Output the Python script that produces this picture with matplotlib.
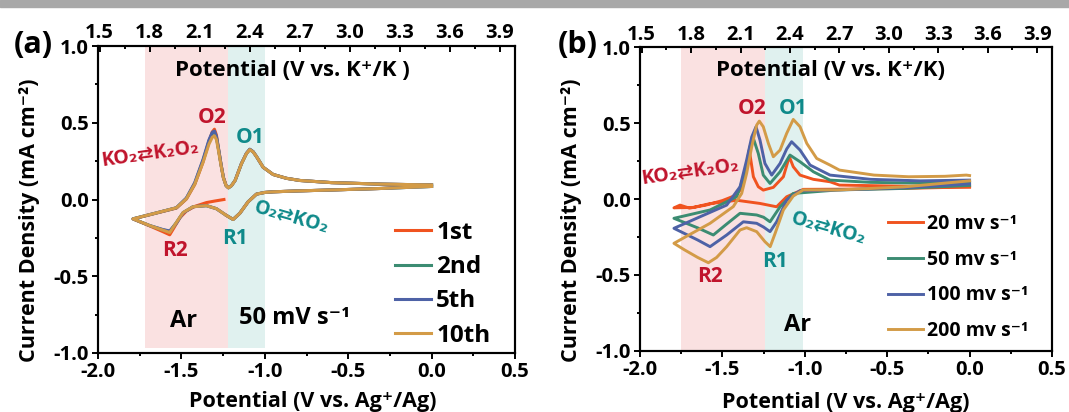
import numpy as np
import matplotlib
matplotlib.use('Agg')
import matplotlib.pyplot as plt
from matplotlib.ticker import MultipleLocator
from matplotlib.patches import Rectangle

plt.rcParams['font.family'] = ['Open Sans', 'DejaVu Sans']
plt.rcParams['font.weight'] = 'bold'
plt.rcParams['axes.labelweight'] = 'bold'
plt.rcParams['axes.unicode_minus'] = False

# ---------------- (a) cycling at 50 mV/s, potential vs Ag+/Ag ----------------
# loop: cathodic from 0.0 V down to -1.79 V, then anodic back to 0.0 V
pot_a = [0.00, -0.30, -0.60, -0.80, -0.95, -1.00, -1.05, -1.10, -1.15, -1.19,
         -1.23, -1.29, -1.35, -1.43, -1.49, -1.53, -1.57, -1.61, -1.69, -1.79,
         -1.67, -1.53, -1.47, -1.42, -1.37, -1.335, -1.315, -1.302, -1.29, -1.278,
         -1.262, -1.248, -1.232, -1.218, -1.200, -1.178, -1.14, -1.11, -1.09, -1.07,
         -1.05, -1.01, -0.95, -0.87, -0.79, -0.60, -0.30, 0.00]
i_2nd = [0.085, 0.072, 0.062, 0.056, 0.050, 0.046, 0.035, -0.015, -0.090, -0.130,
         -0.104, -0.060, -0.040, -0.047, -0.085, -0.150, -0.208, -0.198, -0.170, -0.126,
         -0.093, -0.054, 0.008, 0.105, 0.255, 0.380, 0.430, 0.440, 0.405, 0.330,
         0.225, 0.142, 0.090, 0.076, 0.090, 0.124, 0.233, 0.300, 0.326, 0.311,
         0.280, 0.210, 0.163, 0.138, 0.124, 0.110, 0.100, 0.095]
i_5th = [0.085, 0.072, 0.062, 0.056, 0.050, 0.046, 0.035, -0.015, -0.090, -0.130,
         -0.104, -0.060, -0.040, -0.047, -0.088, -0.155, -0.205, -0.196, -0.170, -0.126,
         -0.093, -0.054, 0.010, 0.110, 0.262, 0.388, 0.438, 0.446, 0.410, 0.333,
         0.226, 0.143, 0.090, 0.076, 0.090, 0.124, 0.235, 0.302, 0.328, 0.312,
         0.280, 0.210, 0.163, 0.138, 0.124, 0.110, 0.100, 0.095]
i_10th = [0.085, 0.072, 0.062, 0.056, 0.050, 0.046, 0.035, -0.015, -0.090, -0.130,
          -0.104, -0.060, -0.040, -0.047, -0.085, -0.150, -0.215, -0.200, -0.170, -0.126,
          -0.093, -0.054, 0.005, 0.100, 0.243, 0.360, 0.405, 0.415, 0.390, 0.320,
          0.220, 0.140, 0.090, 0.076, 0.090, 0.124, 0.233, 0.300, 0.325, 0.310,
          0.280, 0.210, 0.163, 0.138, 0.124, 0.110, 0.100, 0.095]
# first cycle starts at open circuit (-1.245 V)
pot_1st = [-1.245, -1.30, -1.35, -1.42, -1.47, -1.51, -1.545, -1.57, -1.61, -1.69,
           -1.79, -1.67, -1.53, -1.47, -1.42, -1.37, -1.335, -1.315, -1.302, -1.29,
           -1.278, -1.262, -1.248, -1.232, -1.218, -1.200, -1.178, -1.14, -1.11, -1.09,
           -1.07, -1.05, -1.01, -0.95, -0.87, -0.79, -0.60, -0.30, 0.00, -0.30,
           -0.60, -0.80, -0.95, -1.00, -1.05, -1.10, -1.15, -1.19, -1.23]
i_1st = [0.000, -0.010, -0.020, -0.045, -0.075, -0.120, -0.185, -0.230, -0.210, -0.172,
         -0.127, -0.094, -0.056, 0.003, 0.098, 0.245, 0.375, 0.440, 0.458, 0.420,
         0.335, 0.225, 0.142, 0.091, 0.077, 0.090, 0.124, 0.233, 0.300, 0.326,
         0.311, 0.280, 0.210, 0.163, 0.138, 0.124, 0.110, 0.100, 0.095, 0.072,
         0.062, 0.056, 0.050, 0.046, 0.035, -0.015, -0.090, -0.130, -0.104]

# ---------------- (b) scan-rate dependence ----------------
pot_20 = [0.00, -0.40, -0.80, -1.009, -1.11, -1.171, -1.272, -1.413, -1.50, -1.575,
          -1.676, -1.794, -1.757, -1.70, -1.60, -1.50, -1.43, -1.39, -1.365, -1.348,
          -1.337, -1.325, -1.312, -1.282, -1.252, -1.191, -1.13, -1.094, -1.07, -1.029,
          -0.948, -0.847, -0.79, -0.40, 0.00]
i_20 = [0.080, 0.070, 0.065, 0.064, 0.015, -0.051, -0.029, -0.008, -0.020, -0.030,
        -0.055, -0.058, -0.040, -0.060, -0.040, -0.010, 0.020, 0.060, 0.150, 0.260,
        0.323, 0.240, 0.147, 0.081, 0.059, 0.077, 0.147, 0.279, 0.213, 0.158,
        0.130, 0.114, 0.092, 0.085, 0.080]
pot_50 = [0.00, -0.40, -0.80, -1.07, -1.15, -1.211, -1.25, -1.292, -1.393, -1.48,
          -1.555, -1.65, -1.794, -1.575, -1.413, -1.363, -1.333, -1.312, -1.282, -1.252,
          -1.211, -1.15, -1.09, -1.029, -0.948, -0.847, -0.60, -0.30, 0.00]
i_50 = [0.090, 0.070, 0.060, 0.037, -0.051, -0.150, -0.120, -0.105, -0.094, -0.170,
        -0.237, -0.190, -0.127, -0.072, 0.015, 0.169, 0.345, 0.400, 0.300, 0.158,
        0.103, 0.180, 0.290, 0.246, 0.180, 0.125, 0.110, 0.105, 0.110]
pot_100 = [0.00, -0.40, -0.80, -1.029, -1.11, -1.171, -1.211, -1.25, -1.292, -1.373,
           -1.474, -1.575, -1.65, -1.794, -1.636, -1.474, -1.393, -1.353, -1.322, -1.296,
           -1.272, -1.242, -1.201, -1.15, -1.11, -1.08, -1.029, -0.968, -0.847, -0.60,
           -0.30, 0.00]
i_100 = [0.100, 0.075, 0.060, 0.055, -0.007, -0.150, -0.215, -0.185, -0.160, -0.150,
         -0.237, -0.314, -0.270, -0.193, -0.117, -0.040, 0.081, 0.257, 0.410, 0.477,
         0.389, 0.235, 0.158, 0.235, 0.330, 0.378, 0.323, 0.224, 0.158, 0.130,
         0.120, 0.125]
pot_200 = [0.00, -0.40, -0.80, -1.01, -1.07, -1.13, -1.18, -1.21, -1.242, -1.292,
           -1.353, -1.393, -1.474, -1.535, -1.585, -1.65, -1.73, -1.794, -1.70, -1.575,
           -1.434, -1.383, -1.353, -1.322, -1.292, -1.276, -1.252, -1.221, -1.191, -1.15,
           -1.11, -1.07, -1.029, -0.988, -0.928, -0.847, -0.79, -0.58, -0.37, -0.15,
           -0.02, 0.00]
i_200 = [0.120, 0.080, 0.060, 0.060, 0.020, -0.072, -0.226, -0.314, -0.281, -0.215,
         -0.189, -0.204, -0.314, -0.385, -0.420, -0.385, -0.335, -0.292, -0.235, -0.160,
         -0.050, 0.037, 0.169, 0.345, 0.488, 0.514, 0.477, 0.367, 0.279, 0.323,
         0.433, 0.525, 0.477, 0.367, 0.268, 0.224, 0.191, 0.158, 0.147, 0.150,
         0.158, 0.155]

xticks = [-2.0, -1.5, -1.0, -0.5, 0.0, 0.5]
yticks = [-1.0, -0.5, 0.0, 0.5, 1.0]
top_ticks = [1.5, 1.8, 2.1, 2.4, 2.7, 3.0, 3.3, 3.6, 3.9]
k_offset = 3.49   # V vs K+/K = V vs Ag+/Ag + offset

c_or = '#F0531F'
c_gr = '#3C8C72'
c_bl = '#4E62A6'
c_go = '#D39B47'
red = '#C0142C'
teal = '#0F8A8A'


def style_axes(ax):
    ax.set_xlim(-2.0, 0.5)
    ax.set_ylim(-1.0, 1.0)
    ax.set_xticks(xticks)
    ax.set_yticks(yticks)
    ax.set_xticklabels(['%.1f' % t for t in xticks], fontweight='bold')
    ax.set_yticklabels(['%.1f' % t for t in yticks], fontweight='bold')
    ax.xaxis.set_minor_locator(MultipleLocator(0.25))
    ax.yaxis.set_minor_locator(MultipleLocator(0.25))
    ax.tick_params(which='both', top=False, right=False, direction='out',
                   width=1.4, labelsize=14.5)
    ax.tick_params(which='major', length=4, pad=2.5)
    ax.tick_params(which='minor', length=2.5)
    for s in ax.spines.values():
        s.set_linewidth(1.5)
    ax.set_ylabel('Current Density (mA cm⁻²)', fontsize=15.5, fontweight='bold')
    ax.set_xlabel('Potential (V vs. Ag⁺/Ag)', fontsize=15.5, fontweight='bold')

    # potential vs K+/K on the top axis
    top = ax.twiny()
    top.set_xlim(-2.0 + k_offset, 0.5 + k_offset)
    top.set_xticks(top_ticks)
    top.set_xticklabels(['%.1f' % t for t in top_ticks], fontweight='bold')
    top.xaxis.set_minor_locator(MultipleLocator(0.15))
    top.tick_params(which='both', direction='in', width=1.4)
    top.tick_params(which='major', labelsize=14.5, length=4, pad=2)
    top.tick_params(which='minor', length=2.5)
    for s in top.spines.values():
        s.set_linewidth(1.5)
    return top


fig = plt.figure(figsize=(10.69, 4.12), dpi=100)
fig.patches.append(Rectangle((0, 1 - 7 / 412), 1, 7 / 412, transform=fig.transFigure,
                             color='#A8A8A8', zorder=0))

# ---- panel (a) ----
ax1 = fig.add_axes([98 / 1069, 59 / 412, 417 / 1069, 307 / 412])
ax1.axvspan(-1.72, -1.22, ymin=0.015, ymax=1, color='#FAE1E1', lw=0, zorder=0)
ax1.axvspan(-1.22, -1.00, ymin=0.015, ymax=1, color='#E0F1EF', lw=0, zorder=0)
ax1.plot(pot_1st, i_1st, color=c_or, lw=2.2, label='1st', solid_joinstyle='round')
ax1.plot(pot_a, i_2nd, color=c_gr, lw=2.2, label='2nd', solid_joinstyle='round')
ax1.plot(pot_a, i_5th, color=c_bl, lw=2.2, label='5th', solid_joinstyle='round')
ax1.plot(pot_a, i_10th, color=c_go, lw=2.2, label='10th', solid_joinstyle='round')
top1 = style_axes(ax1)
ax1.xaxis.set_label_coords(0.515, -0.125)
ax1.yaxis.set_label_coords(-0.14, 0.433)
ax1.legend(loc='upper left', bbox_to_anchor=(0.712, 0.43), frameon=False,
           prop={'size': 17.5, 'weight': 'bold'}, handlelength=1.5,
           handletextpad=0.2, labelspacing=0.42, borderpad=0, borderaxespad=0)
ax1.text(-0.833, 0.84, 'Potential (V vs. K⁺/K )', ha='center', va='center',
         fontsize=16, fontweight='bold')
ax1.text(-1.49, -0.79, 'Ar', ha='center', va='center', fontsize=17, fontweight='bold')
ax1.text(-0.82, -0.775, '50 mV s⁻¹', ha='center', va='center', fontsize=17,
         fontweight='bold')
ax1.text(-1.318, 0.537, 'O2', ha='center', va='center', fontsize=15, color=red,
         fontweight='bold')
ax1.text(-1.089, 0.406, 'O1', ha='center', va='center', fontsize=15, color=teal,
         fontweight='bold')
ax1.text(-1.538, -0.333, 'R2', ha='center', va='center', fontsize=15, color=red,
         fontweight='bold')
ax1.text(-1.179, -0.256, 'R1', ha='center', va='center', fontsize=15, color=teal,
         fontweight='bold')
ax1.text(-1.688, 0.298, 'KO₂⇄K₂O₂', ha='center', va='center', fontsize=14,
         color=red, fontweight='bold', rotation=8)
ax1.text(-0.84, -0.12, 'O₂⇄KO₂', ha='center', va='center', fontsize=14,
         color=teal, fontweight='bold', rotation=-16)
fig.text(33 / 1069, 1 - 45 / 412, '(a)', ha='center', va='center', fontsize=22,
         fontweight='bold')

# ---- panel (b) ----
ax2 = fig.add_axes([640 / 1069, 61.3 / 412, 412 / 1069, 303.3 / 412])
ax2.axvspan(-1.75, -1.24, color='#FAE1E1', lw=0, zorder=0)
ax2.axvspan(-1.24, -1.01, color='#E0F1EF', lw=0, zorder=0)
ax2.plot(pot_20, i_20, color=c_or, lw=2.1, label='20 mv s⁻¹', solid_joinstyle='round')
ax2.plot(pot_50, i_50, color=c_gr, lw=2.1, label='50 mv s⁻¹', solid_joinstyle='round')
ax2.plot(pot_100, i_100, color=c_bl, lw=2.1, label='100 mv s⁻¹', solid_joinstyle='round')
ax2.plot(pot_200, i_200, color=c_go, lw=2.1, label='200 mv s⁻¹', solid_joinstyle='round')
top2 = style_axes(ax2)
ax2.xaxis.set_label_coords(0.5, -0.135)
ax2.yaxis.set_label_coords(-0.141, 0.43)
ax2.legend(loc='upper left', bbox_to_anchor=(0.602, 0.45), frameon=False,
           prop={'size': 14, 'weight': 'bold'}, handlelength=1.8,
           handletextpad=0.2, labelspacing=0.8, borderpad=0, borderaxespad=0)
ax2.text(-0.842, 0.85, 'Potential (V vs. K⁺/K)', ha='center', va='center',
         fontsize=16, fontweight='bold')
ax2.text(-1.041, -0.83, 'Ar', ha='center', va='center', fontsize=17, fontweight='bold')
ax2.text(-1.322, 0.598, 'O2', ha='center', va='center', fontsize=15, color=red,
         fontweight='bold')
ax2.text(-1.07, 0.598, 'O1', ha='center', va='center', fontsize=15, color=teal,
         fontweight='bold')
ax2.text(-1.575, -0.512, 'R2', ha='center', va='center', fontsize=15, color=red,
         fontweight='bold')
ax2.text(-1.181, -0.413, 'R1', ha='center', va='center', fontsize=15, color=teal,
         fontweight='bold')
ax2.text(-1.697, 0.18, 'KO₂⇄K₂O₂', ha='center', va='center', fontsize=14,
         color=red, fontweight='bold', rotation=8)
ax2.text(-0.857, -0.193, 'O₂⇄KO₂', ha='center', va='center', fontsize=14,
         color=teal, fontweight='bold', rotation=-16)
fig.text(578 / 1069, 1 - 45 / 412, '(b)', ha='center', va='center', fontsize=22,
         fontweight='bold')

fig.savefig('out.png', dpi=100)
